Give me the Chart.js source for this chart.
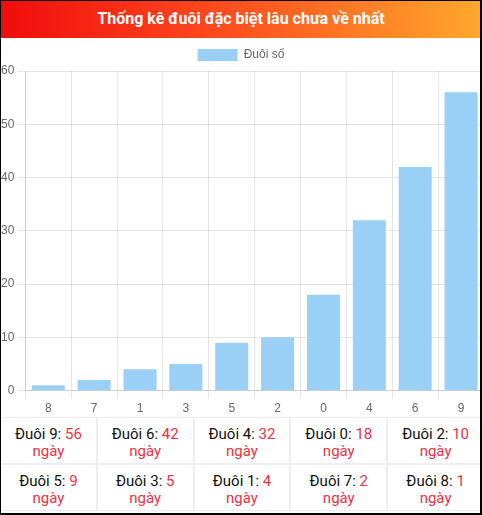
<!DOCTYPE html>
<html>
<head>
<meta charset="utf-8">
<script src="https://cdn.jsdelivr.net/npm/chart.js@4/dist/chart.umd.min.js"></script>
<style>
  html, body { margin: 0; padding: 0; background: #fff; }
  #wrap { position: relative; width: 482px; height: 515px; overflow: hidden; background: #fff; }
  #frame { position: absolute; left: 0; top: 0; right: 0; bottom: 0; box-sizing: border-box;
    border-style: solid; border-color: #000; border-width: 1px 2px 2px 1px; pointer-events: none; z-index: 5; }
  #head { position: absolute; left: 0; top: 0; width: 482px; height: 38px; z-index: 2;
    background: linear-gradient(90deg, #f00c0c 0%, #ff4a1e 45%, #ffa82c 100%);
    color: #fff; font: bold 16px Roboto, sans-serif; text-align: center; line-height: 38px; }
  #box { position: absolute; left: -2px; top: 39px; width: 486px; height: 380px; }
  #tbl { position: absolute; left: 0; top: 417px; width: 484px; display: grid; background: #fff;
    grid-template-columns: repeat(5, 1fr); font: 15px Roboto, sans-serif; }
  #tbl div { border: 1px solid #eee; box-sizing: content-box; text-align: center;
    line-height: 17px; padding-top: 8px; height: 37px; color: #111; }
  #tbl span { color: #ea3345; }
</style>
</head>
<body>
<div id="wrap">
  <div id="head">Thống kê đuôi đặc biệt lâu chưa về nhất</div>
  <div id="box"><canvas id="myChart"></canvas></div>
  <div id="tbl"></div>
  <div id="frame"></div>
</div>
<script>
var tails = ['8', '7', '1', '3', '5', '2', '0', '4', '6', '9'];
var days = [1, 2, 4, 5, 9, 10, 18, 32, 42, 56];
var yTicks = [0, 10, 20, 30, 40, 50, 60];

// table, longest first
var order = tails.map((t, i) => i).sort((a, b) => days[b] - days[a]);
var html = '';
for (let i = 0; i < order.length; i++) {
	var k = order[i];
	html += '<div>Đuôi ' + tails[k] + ': <span>' + days[k] + '</span><br><span>ngày</span></div>';
}
document.getElementById('tbl').innerHTML = html;

var ctx = document.getElementById('myChart').getContext('2d');
var chart = new Chart(ctx, {
	type: 'bar',
	data: {
		labels: tails,
		datasets: [{
			label: 'Đuôi số',
			backgroundColor: '#9ad0f5',
			borderColor: '#9ad0f5',
			borderWidth: 0,
			data: days
		}]
	},
	options: {
		responsive: true,
		maintainAspectRatio: false,
		devicePixelRatio: 1,
		animation: false,
		plugins: {
			legend: { labels: { color: '#666', font: { size: 12 } } }
		},
		scales: {
			y: {
				min: yTicks[0],
				max: yTicks[yTicks.length - 1],
				ticks: { stepSize: 10, color: '#666' }
			},
			x: {
				ticks: { color: '#666' }
			}
		}
	}
});
</script>
</body>
</html>
